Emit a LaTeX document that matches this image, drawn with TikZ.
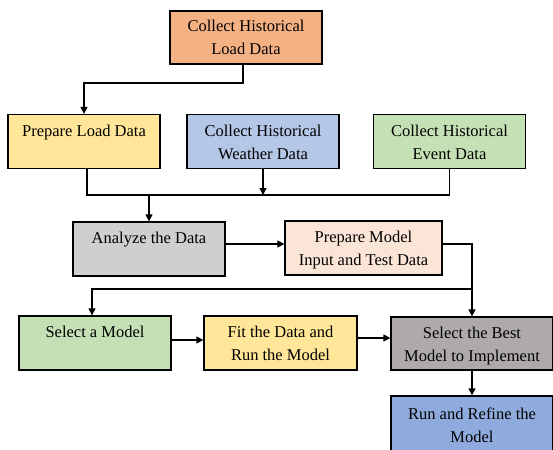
\documentclass[tikz,border=0pt]{standalone}
\usepackage{fontspec}
\setmainfont{Liberation Serif}
\usetikzlibrary{arrows.meta}
\newcommand\ms{\rule[-5.5pt]{0pt}{23pt}}
\definecolor{corange}{HTML}{F4B183}
\definecolor{cyellow}{HTML}{FFE699}
\definecolor{cblue}{HTML}{B4C7E7}
\definecolor{cgreen}{HTML}{C5E0B4}
\definecolor{cgray}{HTML}{D0CECE}
\definecolor{cpeach}{HTML}{FBE5D6}
\definecolor{cdgray}{HTML}{AEAAAA}
\definecolor{cdblue}{HTML}{8FAADC}
\begin{document}
\begin{tikzpicture}[x=1pt,y=-1pt,
  box/.style={draw=black, line width=1.3pt, inner sep=0pt, align=center,
    font=\fontsize{16.5}{23}\selectfont, minimum height=54pt, minimum width=152pt},
  conn/.style={line width=1.3pt},
  arr/.style={conn, -{Triangle[length=7pt,width=7pt]}}]
\fill[white] (0,0) rectangle (553,449);
\useasboundingbox (0,0) rectangle (553,449);

\node[box, fill=corange, minimum height=53pt] (top) at (246,37.5) {\ms Collect Historical\\\ms Load Data};
\node[box, fill=cyellow] (prep) at (84,141.5) {\ms Prepare Load Data\\\ms};
\node[box, fill=cblue] (weather) at (263,141.5) {\ms Collect Historical\\\ms Weather Data};
\node[box, fill=cgreen] (event) at (449.5,141.5) {\ms Collect Historical\\\ms Event Data};
\node[box, fill=cgray] (analyze) at (149,249) {\ms Analyze the Data\\\ms};
\node[box, fill=cpeach, minimum width=157pt] (prepmodel) at (363.5,248) {\ms Prepare Model\\\ms Input and Test Data};
\node[box, fill=cgreen] (selmodel) at (95,343) {\ms Select a Model\\\ms};
\node[box, fill=cyellow, minimum width=153pt] (fit) at (280.5,343) {\ms Fit the Data and\\\ms Run the Model};
\node[box, fill=cdgray, minimum width=162pt, minimum height=53pt] (best) at (472,343.5) {\ms Select the Best\\\ms Model to Implement};
\node[box, fill=cdblue, minimum width=162pt, minimum height=58pt] (run) at (472,425) {\ms Run and Refine the\\\ms Model};

\coordinate (c1) at (243,83);
\coordinate (bus) at (0,195);
\coordinate (split) at (0,289);

\draw[arr] ([xshift=-3pt]top.south) -- ([xshift=-3pt]top.south |- c1) -| (prep.north);
\draw[conn] ([xshift=3pt]prep.south) |- (event.south |- bus) -- (event.south);
\draw[arr] (weather.south) -- (weather.south |- bus);
\draw[arr] (analyze.north |- bus) -- (analyze.north);

\coordinate (a1) at ([yshift=5pt]analyze.east);
\draw[arr] (a1) -- (prepmodel.west |- a1);
\draw[arr] (prepmodel.east |- a1) -| (best.north);
\draw[arr] (best.north |- split) -| ([xshift=-3pt]selmodel.north);

\coordinate (a2) at ([yshift=3pt]selmodel.east);
\draw[arr] (a2) -- (fit.west |- a2);
\coordinate (a3) at ([yshift=5pt]fit.east);
\draw[arr] (a3) -- (best.west |- a3);
\draw[arr] (best.south) -- (run.north);
\end{tikzpicture}
\end{document}
